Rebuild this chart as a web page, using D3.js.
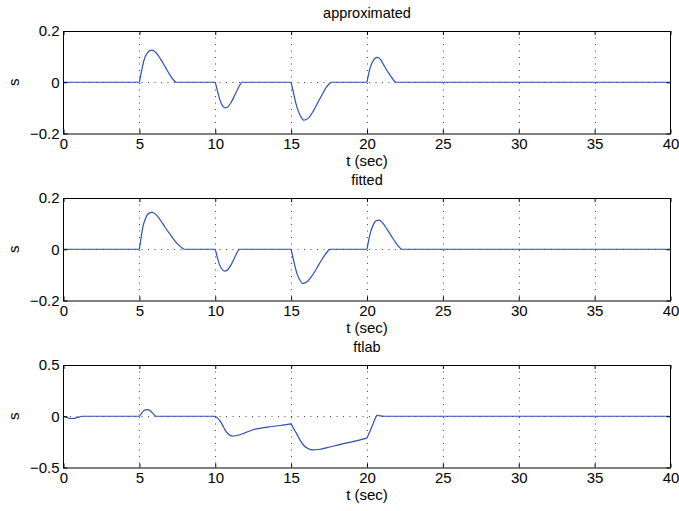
<!DOCTYPE html>
<html>
<head>
<meta charset="utf-8">
<script src="https://cdn.jsdelivr.net/npm/d3@7"></script>
<style>
  html, body { margin: 0; padding: 0; background: #fff; }
  svg { display: block; }
  text { font-family: "Liberation Sans", Arial, Helvetica, sans-serif; fill: #000; }
</style>
</head>
<body>
<svg id="chart" width="679" height="511"></svg>
<script>
// ---- data -------------------------------------------------------------
const panelTitles = ["approximated", "fitted", "ftlab"];
const xLabel = "t (sec)";
const yLabel = "s";
const xDomain = [0, 40];
const xTicks = [0, 5, 10, 15, 20, 25, 30, 35, 40];
const yTicksApprox = [-0.2, 0, 0.2];
const yTicksFitted = [-0.2, 0, 0.2];
const yTicksFtlab = [-0.5, 0, 0.5];

// [t, s] samples of each response
const approxSeries = [
  [0, 0], [5, 0], [5.15, 0.045], [5.3, 0.085], [5.5, 0.113], [5.8, 0.125], [6.1, 0.115],
  [6.4, 0.09], [6.7, 0.06], [7.0, 0.03], [7.2, 0.012], [7.4, 0],
  [10, 0], [10.15, -0.035], [10.3, -0.068], [10.5, -0.093], [10.67, -0.1], [10.85, -0.095],
  [11.05, -0.078], [11.25, -0.055], [11.45, -0.03], [11.6, -0.013], [11.73, 0],
  [15, 0], [15.15, -0.04], [15.35, -0.09], [15.6, -0.13], [15.83, -0.148], [16.1, -0.142],
  [16.4, -0.118], [16.7, -0.086], [17.0, -0.053], [17.3, -0.021], [17.5, -0.007], [17.63, 0],
  [20, 0], [20.1, 0.03], [20.2, 0.055], [20.35, 0.078], [20.5, 0.092], [20.7, 0.097],
  [20.9, 0.088], [21.1, 0.068], [21.3, 0.047], [21.55, 0.025], [21.75, 0.008], [21.87, 0],
  [40, 0]
];
const approxCorners = [5, 7.4, 10, 11.73, 15, 17.63, 20, 21.87];

const fittedSeries = [
  [0, 0], [5, 0], [5.1, 0.04], [5.25, 0.092], [5.45, 0.127], [5.65, 0.141], [5.84, 0.144],
  [6.05, 0.138], [6.35, 0.117], [6.7, 0.085], [7.05, 0.056], [7.35, 0.032], [7.65, 0.013], [7.93, 0],
  [10, 0], [10.12, -0.028], [10.25, -0.055], [10.4, -0.074], [10.63, -0.085], [10.85, -0.078],
  [11.05, -0.06], [11.25, -0.036], [11.42, -0.015], [11.55, 0],
  [15, 0], [15.15, -0.04], [15.35, -0.088], [15.55, -0.118], [15.79, -0.133], [16.05, -0.127],
  [16.35, -0.106], [16.65, -0.078], [16.95, -0.048], [17.25, -0.02], [17.52, 0],
  [20, 0], [20.1, 0.032], [20.25, 0.07], [20.45, 0.1], [20.6, 0.111], [20.77, 0.114],
  [21.0, 0.105], [21.3, 0.08], [21.6, 0.052], [21.9, 0.025], [22.1, 0.01], [22.24, 0],
  [40, 0]
];
const fittedCorners = [5, 7.93, 10, 11.55, 15, 17.52, 20, 22.24];

const ftlabSeries = [
  [0, 0], [0.2, -0.012], [0.4, -0.02], [0.57, -0.022], [0.8, -0.018], [1.0, -0.008], [1.23, 0],
  [5, 0], [5.15, 0.03], [5.3, 0.055], [5.51, 0.065], [5.7, 0.055], [5.9, 0.025], [6.06, 0],
  [10, 0], [10.2, -0.025], [10.4, -0.065], [10.67, -0.14], [10.9, -0.178], [11.11, -0.193],
  [11.4, -0.188], [11.88, -0.167], [12.54, -0.129], [13.42, -0.106], [14.3, -0.09], [15, -0.074],
  [15.2, -0.13], [15.39, -0.177], [15.6, -0.235], [15.83, -0.283], [16.1, -0.315], [16.45, -0.329],
  [16.9, -0.322], [17.37, -0.306], [18.25, -0.274], [19.12, -0.245], [20, -0.213],
  [20.3, -0.11], [20.55, -0.02], [20.66, 0.012], [20.85, 0.004], [21.2, 0],
  [40, 0]
];
const ftlabCorners = [1.23, 5, 6.06, 10, 15, 20, 20.66];

// ---- layout -----------------------------------------------------------
const panels = [
  { title: panelTitles[0], series: approxSeries, corners: approxCorners, yTicks: yTicksApprox, top: 31 },
  { title: panelTitles[1], series: fittedSeries, corners: fittedCorners, yTicks: yTicksFitted, top: 198 },
  { title: panelTitles[2], series: ftlabSeries, corners: ftlabCorners, yTicks: yTicksFtlab, top: 365 }
];
const left = 63.5, right = 670.5, panelH = 102.5;
const lineColor = "#2b4fb6";
const gridColor = "#444";

const svg = d3.select("#chart");
const x = d3.scaleLinear().domain(xDomain).range([left, right]);
const fmt = d => d === 0 ? "0" : d3.format(".1f")(d);

// split a series into smooth pieces at its corner times
function splitAtCorners(series, corners) {
  const set = new Set(corners);
  const pieces = [];
  let cur = [];
  series.forEach(p => {
    cur.push(p);
    if (set.has(p[0]) && cur.length > 1) {
      pieces.push(cur);
      cur = [p];
    }
  });
  if (cur.length > 1) pieces.push(cur);
  return pieces;
}

panels.forEach(p => {
  const top = p.top, bottom = top + panelH;
  const yExt = d3.extent(p.yTicks);
  const y = d3.scaleLinear().domain(yExt).range([bottom, top]);
  const g = svg.append("g");

  // dotted grid
  g.append("g").selectAll("line").data(xTicks.filter(t => t > xDomain[0] && t < xDomain[1]))
    .join("line")
    .attr("x1", d => Math.round(x(d)) + 0.5).attr("x2", d => Math.round(x(d)) + 0.5)
    .attr("y1", top).attr("y2", bottom)
    .attr("stroke", gridColor).attr("stroke-width", 1).attr("stroke-dasharray", "1 5.5");
  g.append("g").selectAll("line").data(p.yTicks.filter(t => t > yExt[0] && t < yExt[1]))
    .join("line")
    .attr("x1", left).attr("x2", right)
    .attr("y1", d => Math.round(y(d)) + 0.5).attr("y2", d => Math.round(y(d)) + 0.5)
    .attr("stroke", gridColor).attr("stroke-width", 1).attr("stroke-dasharray", "1 5.5");

  // response curve
  const line = d3.line().x(d => x(d[0])).y(d => y(d[1])).curve(d3.curveMonotoneX);
  const pathD = splitAtCorners(p.series, p.corners).map(seg => line(seg)).join("");
  g.append("path").attr("d", pathD)
    .attr("fill", "none").attr("stroke", lineColor).attr("stroke-width", 1.2)
    .attr("stroke-linejoin", "round");

  // axes with inward ticks
  const axB = g.append("g").attr("transform", `translate(0,${bottom})`)
    .call(d3.axisBottom(x).tickValues(xTicks).tickSizeInner(-4).tickSizeOuter(0).tickPadding(5).tickFormat(d3.format("d")));
  const axT = g.append("g").attr("transform", `translate(0,${top})`)
    .call(d3.axisTop(x).tickValues(xTicks).tickSizeInner(-4).tickSizeOuter(0).tickFormat(""));
  const axL = g.append("g").attr("transform", `translate(${left},0)`)
    .call(d3.axisLeft(y).tickValues(p.yTicks).tickSizeInner(-4).tickSizeOuter(0).tickPadding(4).tickFormat(fmt));
  const axR = g.append("g").attr("transform", `translate(${right},0)`)
    .call(d3.axisRight(y).tickValues(p.yTicks).tickSizeInner(-4).tickSizeOuter(0).tickFormat(""));
  [axB, axT, axL, axR].forEach(a => {
    a.select(".domain").remove();
    a.selectAll("line").attr("stroke", "#000");
    a.selectAll("text").style("font-size", "15px").attr("fill", "#000")
      .style("font-family", '"Liberation Sans", Arial, sans-serif');
  });

  // frame
  g.append("rect").attr("x", left).attr("y", top + 0.5)
    .attr("width", right - left).attr("height", panelH)
    .attr("fill", "none").attr("stroke", "#000").attr("stroke-width", 1);

  // labels
  g.append("text").attr("x", (left + right) / 2).attr("y", top - 13)
    .attr("text-anchor", "middle").style("font-size", "14.5px").text(p.title);
  g.append("text").attr("x", (left + right) / 2).attr("y", bottom + 32)
    .attr("text-anchor", "middle").style("font-size", "15px").text(xLabel);
  g.append("text").attr("transform", `translate(19,${(top + bottom) / 2}) rotate(-90)`)
    .attr("text-anchor", "middle").style("font-size", "15px").text(yLabel);
});
</script>
</body>
</html>
